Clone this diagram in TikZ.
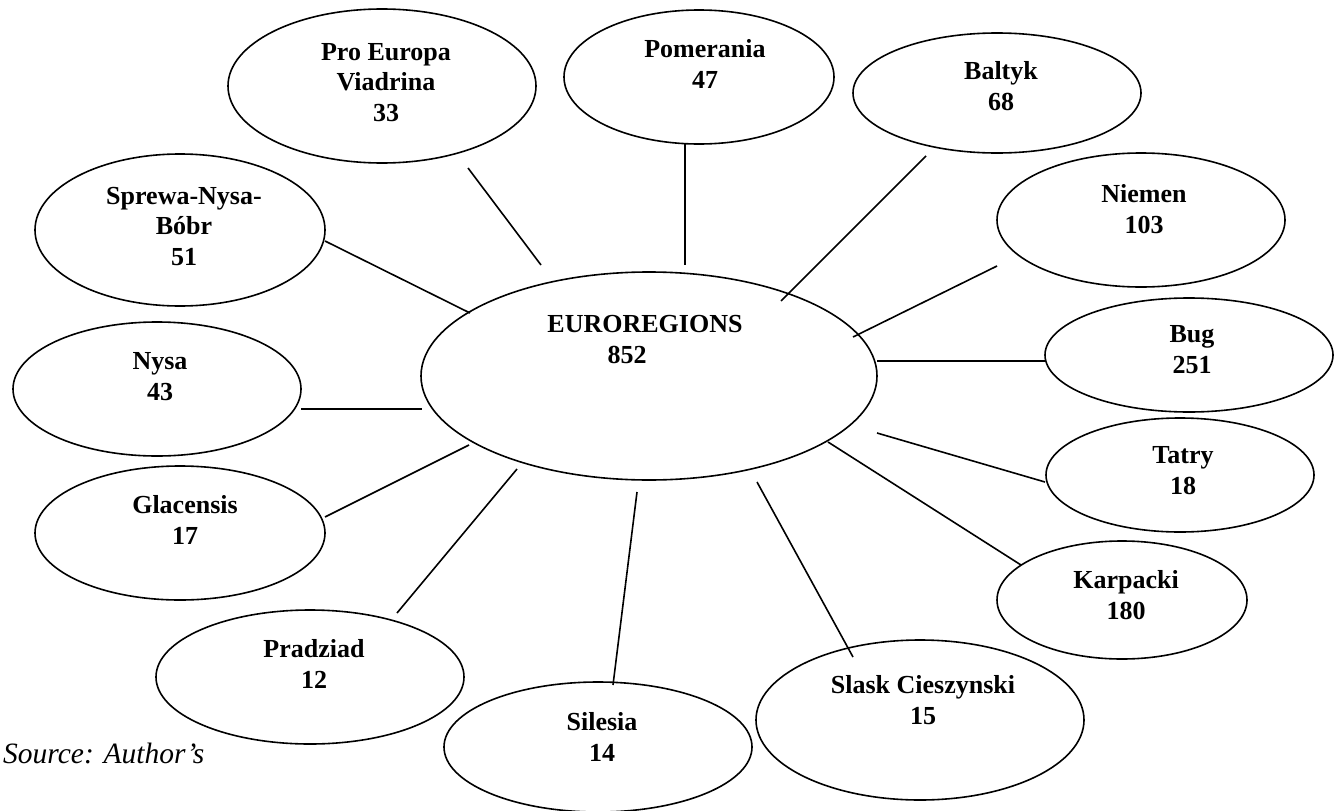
\documentclass[tikz,border=0pt]{standalone}
\usepackage{fontspec}
\setmainfont{Liberation Serif}
\usetikzlibrary{shapes.geometric}
\tikzset{
  oval/.style={draw=black, line width=1.6pt, ellipse, inner sep=0pt},
  lbl/.style={anchor=base, align=center, inner sep=0pt, font=\fontsize{26pt}{30.5pt}\selectfont\bfseries},
  link/.style={draw=black, line width=1.6pt}
}
\begin{document}
\begin{tikzpicture}[x=1pt,y=-1pt]
\useasboundingbox (0,0) rectangle (1341,811);
% ellipses: (cx,cy), width 2rx, height 2ry
\node[oval, minimum width=456pt, minimum height=208pt] (c)   at (649,376) {};
\node[oval, minimum width=308pt, minimum height=154pt] (pe)  at (382,86)  {};
\node[oval, minimum width=270pt, minimum height=134pt] (pom) at (699,77)  {};
\node[oval, minimum width=288pt, minimum height=120pt] (bal) at (997,93)  {};
\node[oval, minimum width=288pt, minimum height=134pt] (nie) at (1141,220) {};
\node[oval, minimum width=288pt, minimum height=114pt] (bug) at (1189,355) {};
\node[oval, minimum width=268pt, minimum height=114pt] (tat) at (1180,475) {};
\node[oval, minimum width=250pt, minimum height=118pt] (kar) at (1122,600) {};
\node[oval, minimum width=328pt, minimum height=160pt] (sla) at (920,720) {};
\node[oval, minimum width=308pt, minimum height=130pt] (sil) at (598,747) {};
\node[oval, minimum width=308pt, minimum height=134pt] (pra) at (310,677) {};
\node[oval, minimum width=290pt, minimum height=134pt] (gla) at (180,533) {};
\node[oval, minimum width=288pt, minimum height=134pt] (nys) at (157,389) {};
\node[oval, minimum width=290pt, minimum height=152pt] (spr) at (180,230) {};
% labels (anchored at the baseline of their last line)
\node[lbl] (c-t)   at (645,363)  {EUROREGIONS\\852\hspace*{36pt}};
\node[lbl] (pe-t)  at (386,121)  {Pro Europa\\Viadrina\\33};
\node[lbl] (pom-t) at (705,88)   {Pomerania\\47};
\node[lbl] (bal-t) at (1001,110) {Baltyk\\68};
\node[lbl] (nie-t) at (1144,233) {Niemen\\103};
\node[lbl] (bug-t) at (1192,373) {Bug\\251};
\node[lbl] (tat-t) at (1183,494) {Tatry\\18};
\node[lbl] (kar-t) at (1126,619) {Karpacki\\180};
\node[lbl] (sla-t) at (923,724)  {Slask Cieszynski\\15};
\node[lbl] (sil-t) at (602,761)  {Silesia\\14};
\node[lbl] (pra-t) at (314,688)  {Pradziad\\12};
\node[lbl] (gla-t) at (185,544)  {Glacensis\\17};
\node[lbl] (nys-t) at (160,400)  {Nysa\\43};
\node[lbl] (spr-t) at (184,265)  {Sprewa-Nysa-\\Bóbr\\51};
\node[anchor=base west, inner sep=0pt, font=\fontsize{29.5pt}{33pt}\selectfont\itshape] (src) at (3,763) {Source: Author’s};
% connector end points
\coordinate (pe-a) at (468,168);  \coordinate (pe-b) at (541,265);
\coordinate (pom-a) at (685,144); \coordinate (pom-b) at (685,265);
\coordinate (bal-a) at (926,156); \coordinate (bal-b) at (781,301);
\coordinate (nie-a) at (997,266); \coordinate (nie-b) at (853,337);
\coordinate (bug-a) at (1045,361); \coordinate (bug-b) at (877,361);
\coordinate (tat-a) at (1045,482); \coordinate (tat-b) at (877,433);
\coordinate (kar-a) at (1021,565); \coordinate (kar-b) at (828,442);
\coordinate (sla-a) at (853,657); \coordinate (sla-b) at (757,482);
\coordinate (sil-a) at (613,685); \coordinate (sil-b) at (637,492);
\coordinate (pra-a) at (397,613); \coordinate (pra-b) at (517,469);
\coordinate (gla-a) at (325,517); \coordinate (gla-b) at (469,445);
\coordinate (nys-a) at (301,409); \coordinate (nys-b) at (422,409);
\coordinate (spr-a) at (325,241); \coordinate (spr-b) at (470,313);
\foreach \n in {pe,pom,bal,nie,bug,tat,kar,sla,sil,pra,gla,nys,spr}
  \draw[link] (\n-a) -- (\n-b);
\end{tikzpicture}
\end{document}
